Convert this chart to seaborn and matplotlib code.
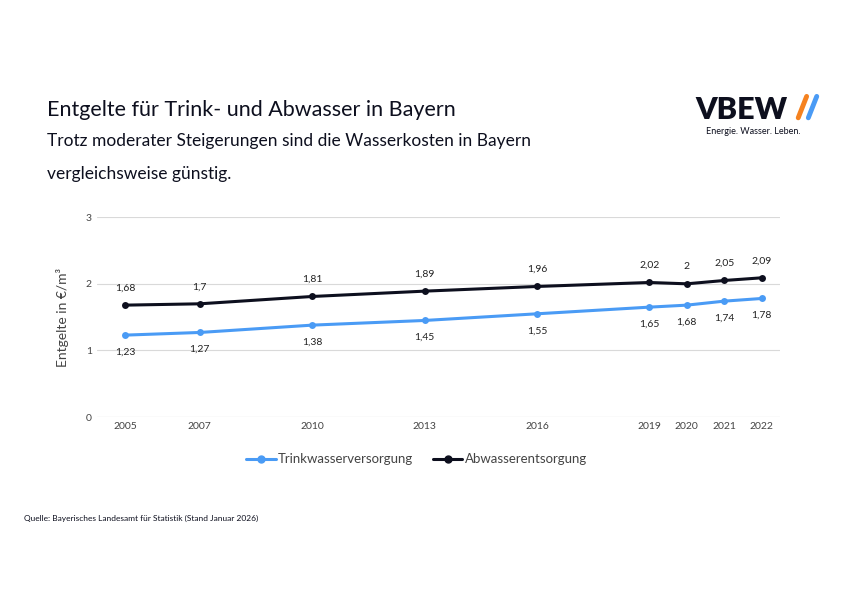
import matplotlib
matplotlib.use("Agg")
import matplotlib.pyplot as plt
import seaborn as sns
import pandas as pd
from matplotlib.lines import Line2D

years = [2005, 2007, 2010, 2013, 2016, 2019, 2020, 2021, 2022]
trink = [1.23, 1.27, 1.38, 1.45, 1.55, 1.65, 1.68, 1.74, 1.78]
abwasser = [1.68, 1.70, 1.81, 1.89, 1.96, 2.02, 2.00, 2.05, 2.09]

sns.set_style("white")
plt.rcParams['font.family'] = ['Lato', 'DejaVu Sans']

df = pd.DataFrame({"Jahr": years * 2, "Wert": trink + abwasser,
                   "Serie": ["Trinkwasserversorgung"] * 9 + ["Abwasserentsorgung"] * 9})

fig = plt.figure(figsize=(8.42, 5.95), dpi=100)
ax = fig.add_axes([0.115, 0.299, 0.811, 0.336])
sns.lineplot(data=df, x="Jahr", y="Wert", hue="Serie", marker="o", markersize=5,
             markeredgewidth=0, linewidth=2.2,
             palette={"Trinkwasserversorgung": "#4a9bf5", "Abwasserentsorgung": "#0d0f1e"},
             ax=ax, legend=False)

fmt = lambda v: f"{v:g}".replace(".", ",")
for x, a, b in zip(years, trink, abwasser):
    ax.annotate(fmt(b), (x, b), xytext=(0, 9), textcoords="offset points",
                ha="center", va="bottom", fontsize=7.5, color="#222222")
    ax.annotate(fmt(a), (x, a), xytext=(0, -9), textcoords="offset points",
                ha="center", va="top", fontsize=7.5, color="#222222")

ax.set_xlim(2004.25, 2022.48)
ax.set_ylim(0, 3)
ax.set_yticks([0, 1, 2, 3])
ax.set_xticks(years)
ax.tick_params(labelsize=7.5, colors="#444444", length=0)
ax.grid(axis="y", color="#d9d9d9", linewidth=0.8)
ax.axhline(0, color="#d9d9d9", linewidth=0.8, zorder=0)
for s in ax.spines.values():
    s.set_visible(False)
ax.set_xlabel("")
ax.set_ylabel("Entgelte in €/m³", fontsize=10, color="#444444", labelpad=12)

handles = [Line2D([], [], color="#4a9bf5", marker="o", markersize=5, lw=2.2),
           Line2D([], [], color="#0d0f1e", marker="o", markersize=5, lw=2.2)]
fig.legend(handles, ["Trinkwasserversorgung", "Abwasserentsorgung"], loc="center",
           bbox_to_anchor=(0.495, 0.228), ncol=2, frameon=False, fontsize=9.5,
           handlelength=2.2, handletextpad=0.2, columnspacing=1.5, labelcolor="#444444")

fig.text(0.056, 0.805, "Entgelte für Trink- und Abwasser in Bayern", fontsize=15.5, color="#0d0f1e")
fig.text(0.056, 0.755, "Trotz moderater Steigerungen sind die Wasserkosten in Bayern",
         fontsize=12.5, color="#0d0f1e")
fig.text(0.056, 0.700, "vergleichsweise günstig.", fontsize=12.5, color="#0d0f1e")

# logo
fig.text(0.826, 0.80, "VBEW", fontsize=22, fontweight="heavy", color="#0d0f1e", ha="left")
fig.add_artist(Line2D([0.948, 0.958], [0.802, 0.838], color="#f58220", lw=3.5))
fig.add_artist(Line2D([0.960, 0.970], [0.802, 0.838], color="#4a9bf5", lw=3.5))
fig.text(0.839, 0.775, "Energie. Wasser. Leben.", fontsize=6.5, color="#0d0f1e")

fig.text(0.028, 0.125, "Quelle: Bayerisches Landesamt für Statistik (Stand Januar 2026)",
         fontsize=6, color="#0d0f1e")

fig.savefig("out.png", dpi=100)
